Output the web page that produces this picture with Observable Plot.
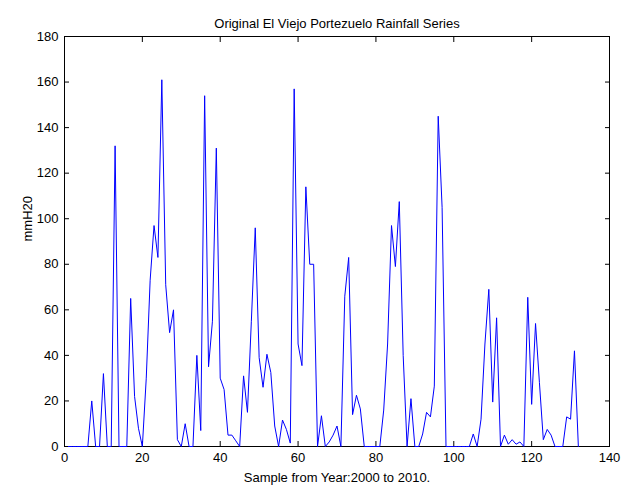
<!DOCTYPE html>
<html>
<head>
<meta charset="utf-8">
<script src="https://cdn.jsdelivr.net/npm/d3@7"></script>
<script src="https://cdn.jsdelivr.net/npm/@observablehq/plot@0.6"></script>
<style>
  html, body { margin: 0; padding: 0; background: #fff; }
  svg { display: block; }
</style>
</head>
<body>
<div id="chart"></div>
<script>
const titleText = "Original El Viejo Portezuelo Rainfall Series";
const xLabel = "Sample from Year:2000 to 2010.";
const yLabel = "mmH20";
const xTicks = [0, 20, 40, 60, 80, 100, 120, 140];
const yTicks = [0, 20, 40, 60, 80, 100, 120, 140, 160, 180];
const rainfall = [
  0, 0, 0, 0, 0, 0, 20, 0, 0, 32,
  0, 0, 132, 0, 0, 0, 65, 22, 8, 0,
  30, 73, 97, 83, 161, 71, 50, 60, 3, 0,
  10, 0, 0, 40, 7, 154, 35, 55, 131, 30,
  25, 5, 5, 2.5, 0, 31, 15, 55, 96, 39,
  26, 40.5, 32.5, 9, 0, 11.6, 7.5, 1.5, 157, 45,
  35.5, 114, 80, 80, 0, 13.5, 0, 2, 5, 9,
  0, 66, 83, 14, 22.5, 16.5, 0, 0, 0, 0,
  0, 16, 45, 97, 79, 107.5, 40, 0, 21, 0,
  0, 5.5, 15, 13, 26.5, 145, 105, 0, 0, 0,
  0, 0, 0, 0, 5.5, 0, 12, 45, 69, 19.5,
  56.5, 0, 5, 1, 3, 1, 2, 0, 65.5, 18.5,
  54, 28, 3, 7.5, 5, 0, 0, 0, 13, 12,
  42, 0
];
const table = rainfall.map((v, i) => ({sample: i + 1, value: v}));

const font = "'Liberation Sans', Arial, sans-serif";
const noText = () => "";
const chart = Plot.plot({
  width: 624,
  height: 489,
  marginLeft: 64,
  marginRight: 15,
  marginTop: 36,
  marginBottom: 43,
  style: {fontFamily: font, fontSize: "13px", color: "#000", background: "#fff"},
  x: {domain: [0, 140], ticks: xTicks},
  y: {domain: [0, 180], ticks: yTicks},
  marks: [
    Plot.frame({stroke: "#000", strokeWidth: 1}),
    Plot.axisX({anchor: "bottom", ticks: xTicks, tickSize: 5, dy: -5, tickFormat: noText, label: null}),
    Plot.axisX({anchor: "top", ticks: xTicks, tickSize: 5, dy: 5, tickFormat: noText, label: null}),
    Plot.axisY({anchor: "left", ticks: yTicks, tickSize: 5, dx: 5, tickFormat: noText, label: null}),
    Plot.axisY({anchor: "right", ticks: yTicks, tickSize: 5, dx: -5, tickFormat: noText, label: null}),
    Plot.axisX({anchor: "bottom", ticks: xTicks, tickSize: 0, tickPadding: 6, label: null, fontSize: 13}),
    Plot.axisY({anchor: "left", ticks: yTicks, tickSize: 0, tickPadding: 6, label: null, fontSize: 13}),
    Plot.line(table, {x: "sample", y: "value", stroke: "#0000ff", strokeWidth: 1}),
    Plot.text([titleText], {frameAnchor: "top", dy: -18, fontSize: 13}),
    Plot.text([xLabel], {frameAnchor: "bottom", dy: 35, fontSize: 13}),
    Plot.text([yLabel], {frameAnchor: "left", dx: -37, rotate: -90, fontSize: 13})
  ]
});
document.getElementById("chart").appendChild(chart);
</script>
</body>
</html>
